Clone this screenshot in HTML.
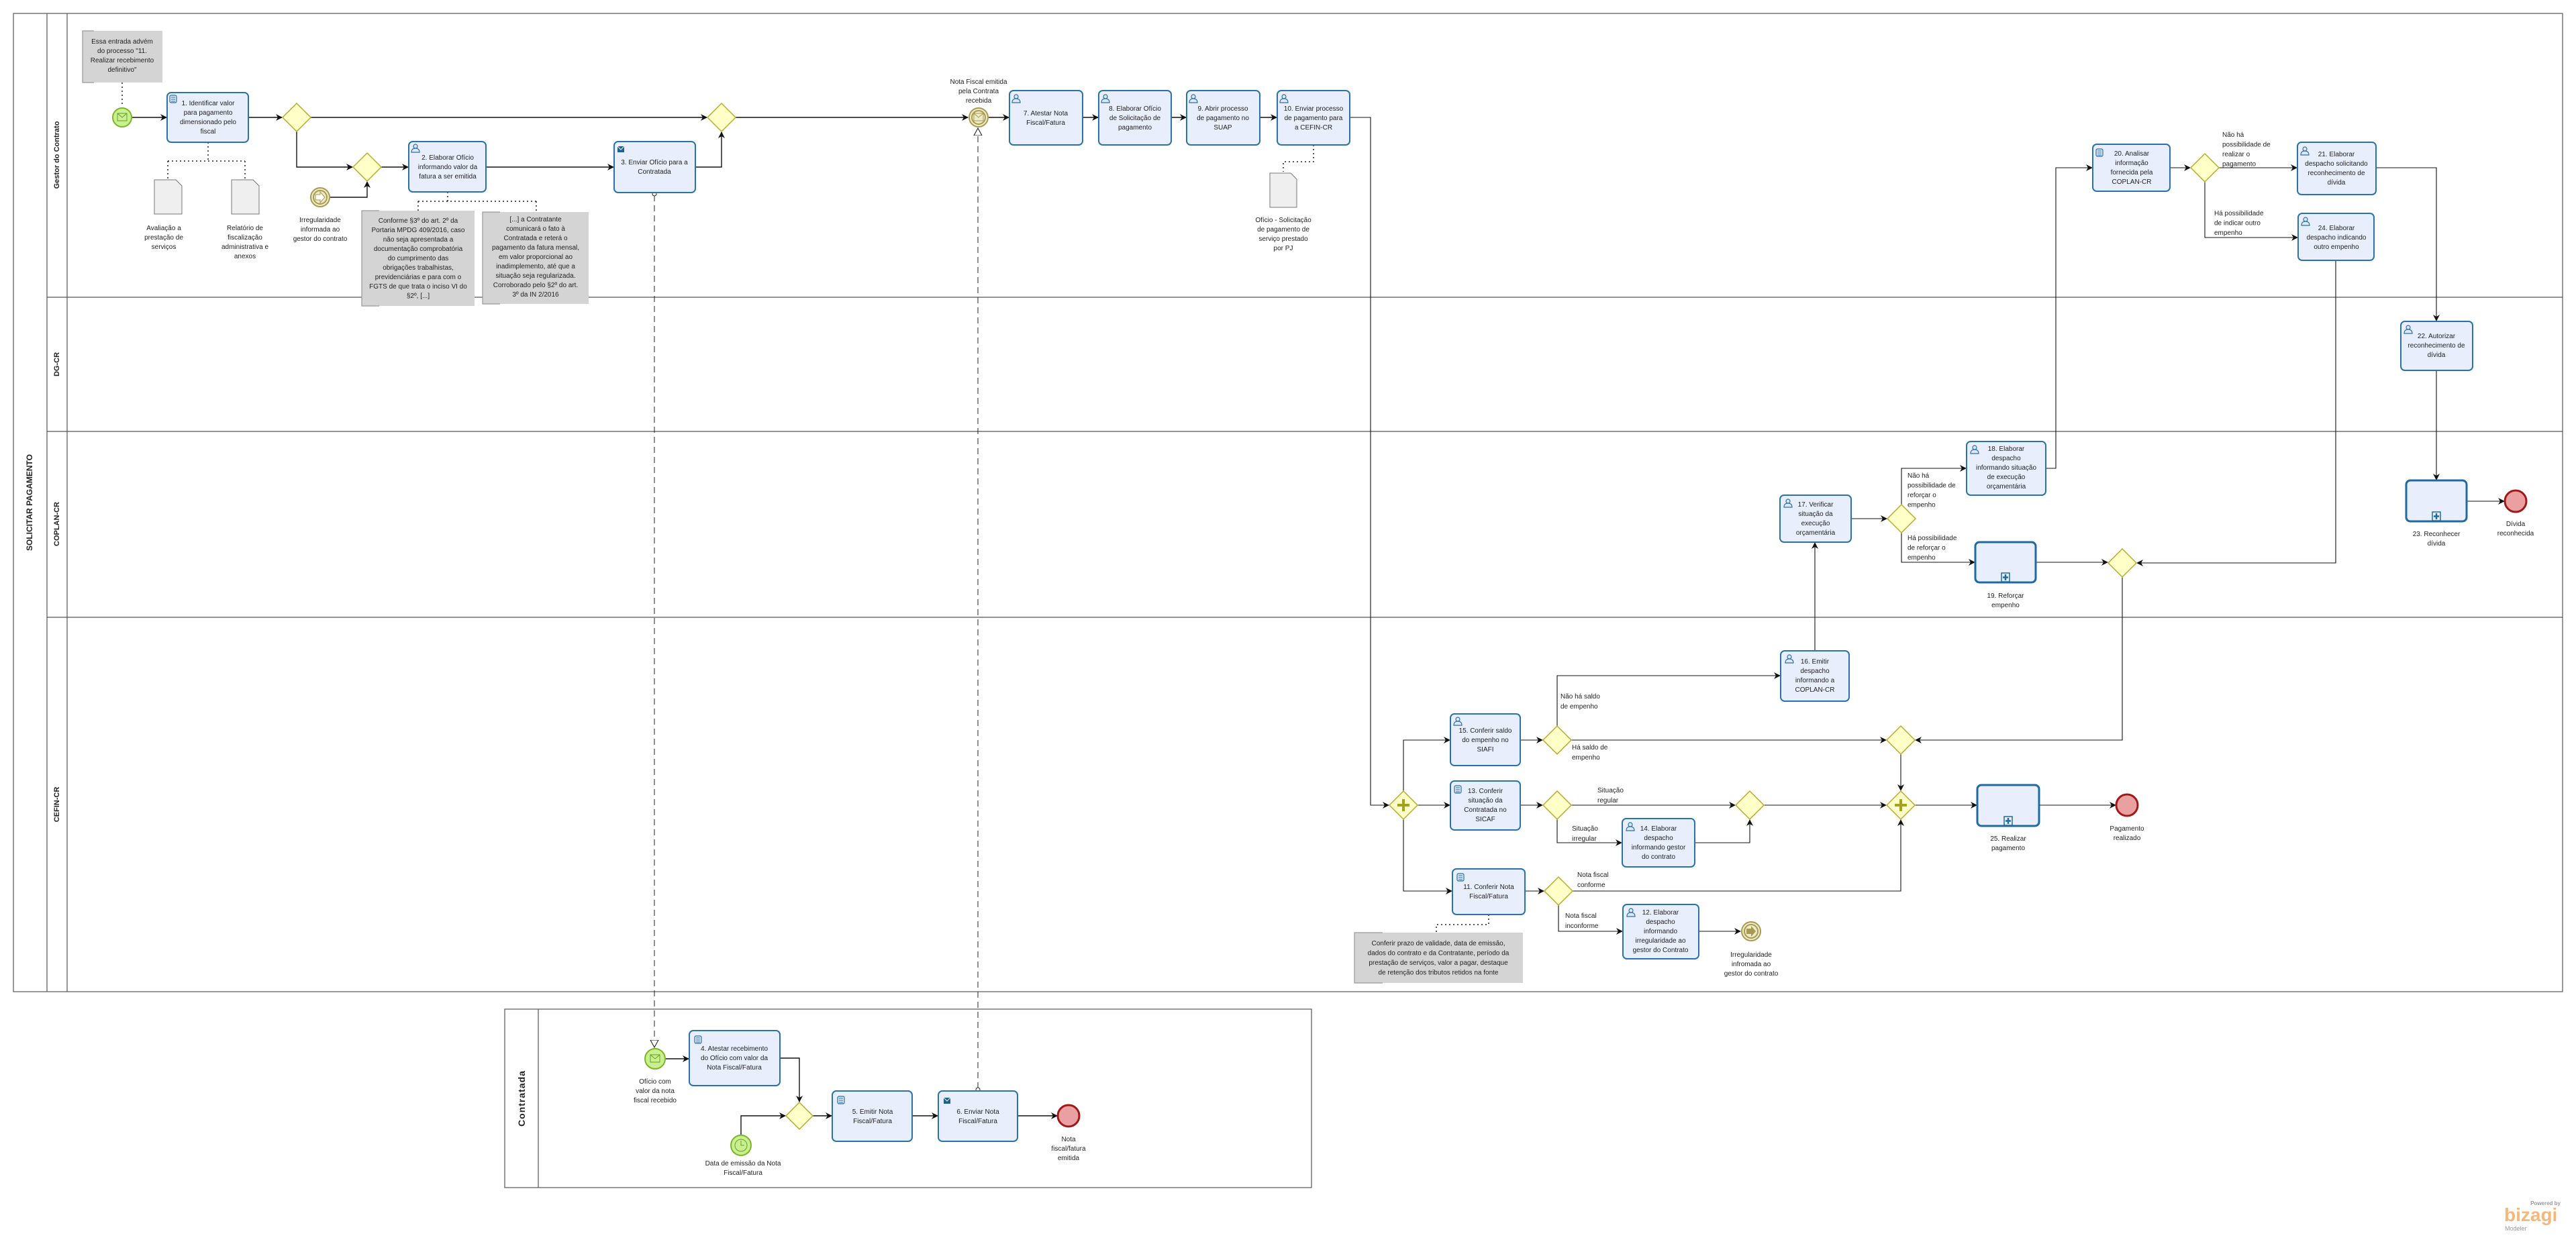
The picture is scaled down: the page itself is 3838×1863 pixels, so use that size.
<!DOCTYPE html>
<html><head><meta charset="utf-8"><style>
html,body{margin:0;padding:0;background:#fff;}
svg{display:block;}
text{font-family:"Liberation Sans",sans-serif;font-size:10px;fill:#222;}
.t{text-anchor:middle;}
.b{font-weight:bold;}
</style></head><body>
<svg width="3838" height="1863" viewBox="0 0 3838 1863" xmlns="http://www.w3.org/2000/svg">
<defs>
<marker id="a" markerUnits="userSpaceOnUse" markerWidth="10" markerHeight="10" refX="9" refY="5" orient="auto"><path d="M0,0 L10,5 L0,10 L3,5 z" fill="#111"/></marker>
<marker id="h" markerUnits="userSpaceOnUse" markerWidth="12" markerHeight="14" refX="11" refY="7" orient="auto"><path d="M0,1 L11,7 L0,13 z" fill="#fff" stroke="#111" stroke-width="1"/></marker>
<g id="usr"><circle cx="0" cy="-3" r="3" fill="#dfe8f8" stroke="#2a6fa8" stroke-width="1.2"/><path d="M-6,6 Q-6,0 0,0 Q6,0 6,6 z" fill="#dfe8f8" stroke="#2a6fa8" stroke-width="1.2"/></g>
<g id="scr"><rect x="-5" y="-5" width="10" height="11" rx="2" fill="#dfe8f8" stroke="#2a6fa8" stroke-width="1.2"/><path d="M-3,-2h6M-3,1h6M-3,4h6" stroke="#2a6fa8"/></g>
<g id="snd"><rect x="-5" y="-4" width="10" height="9" fill="#1e5f94"/><path d="M-5,-4 L0,1 L5,-4" stroke="#fff" fill="none"/></g>
</defs>

<!-- main pool -->
<g fill="none" stroke="#555" stroke-width="1.2">
<rect x="20" y="20" width="3798" height="1458"/>
<line x1="70" y1="20" x2="70" y2="1478"/>
<line x1="100" y1="20" x2="100" y2="1478"/>
<line x1="70" y1="443" x2="3818" y2="443"/>
<line x1="70" y1="643" x2="3818" y2="643"/>
<line x1="70" y1="920" x2="3818" y2="920"/>
<rect x="752" y="1504" width="1202" height="266"/>
<line x1="802" y1="1504" x2="802" y2="1770"/>
</g>
<text class="t b" transform="translate(48,749) rotate(-90)" style="font-size:12px">SOLICITAR PAGAMENTO</text>
<text class="t b" transform="translate(88,231) rotate(-90)" style="font-size:11px">Gestor do Contrato</text>
<text class="t b" transform="translate(88,543) rotate(-90)" style="font-size:11px">DG-CR</text>
<text class="t b" transform="translate(88,781) rotate(-90)" style="font-size:11px">COPLAN-CR</text>
<text class="t b" transform="translate(88,1199) rotate(-90)" style="font-size:11px">CEFIN-CR</text>
<text class="t b" transform="translate(782,1637) rotate(-90)" style="font-size:14px;letter-spacing:1px">Contratada</text>

<!-- sequence flows -->
<g fill="none" stroke="#111" stroke-width="1.4" marker-end="url(#a)">
<path d="M197,175 H248"/>
<path d="M371,175 H420"/>
<path d="M463,175 H1053"/>
<path d="M442,196 V249 H525"/>
<path d="M492,294 H547 V271"/>
<path d="M568,249 H608"/>
<path d="M724,249 H914"/>
<path d="M1036,249 H1075 V197"/>
<path d="M1096,175 H1442"/>
<path d="M1473,175 H1503"/>
<path d="M1613,175 H1636"/>
<path d="M1745,175 H1767"/>
<path d="M1877,175 H1902"/>
</g>
<g fill="none" stroke="#111" stroke-width="1.1" marker-end="url(#a)">
<path d="M2011,175 H2042 V1200 H2069"/>
<path d="M2112,1200 H2160"/>
<path d="M2091,1179 V1103 H2160"/>
<path d="M2091,1221 V1328 H2163"/>
<path d="M2265,1103 H2298"/>
<path d="M2320,1082 V1007 H2652"/>
<path d="M2341,1103 H2810"/>
<path d="M2704,970 V809"/>
<path d="M2265,1200 H2298"/>
<path d="M2341,1200 H2585"/>
<path d="M2320,1221 V1256 H2416"/>
<path d="M2525,1256 H2607 V1222"/>
<path d="M2628,1200 H2810"/>
<path d="M2832,1124 V1178"/>
<path d="M2272,1328 H2300"/>
<path d="M2343,1328 H2832 V1222"/>
<path d="M2322,1349 V1388 H2417"/>
<path d="M2531,1388 H2593"/>
<path d="M2853,1200 H2945"/>
<path d="M3038,1200 H3152"/>
<path d="M3162,860 V1103 H2854"/>
<path d="M2758,773 H2811"/>
<path d="M2833,752 V698 H2929"/>
<path d="M2833,794 V838 H2942"/>
<path d="M3033,838 H3140"/>
<path d="M3480,388 V839 H3184"/>
<path d="M3048,698 H3063 V250 H3117"/>
<path d="M3233,250 H3263"/>
<path d="M3306,250 H3422"/>
<path d="M3285,271 V354 H3423"/>
<path d="M3540,250 H3630 V478"/>
<path d="M3630,552 V715"/>
<path d="M3675,747 H3731"/>
</g>
<g fill="none" stroke="#111" stroke-width="1.4" marker-end="url(#a)">
<path d="M992,1578 H1026"/>
<path d="M1162,1577 H1191 V1642"/>
<path d="M1104,1691 V1663 H1170"/>
<path d="M1211,1663 H1239"/>
<path d="M1359,1663 H1397"/>
<path d="M1516,1663 H1575"/>
</g>

<!-- message flows -->
<g fill="none" stroke="#222" stroke-width="1" stroke-dasharray="9,6">
<path d="M975,291 V1561" marker-end="url(#h)"/>
<path d="M1457,1622 V191" marker-end="url(#h)"/>
</g>
<circle cx="975" cy="289" r="3" fill="#fff" stroke="#222"/>
<circle cx="1457" cy="1624" r="3" fill="#fff" stroke="#222"/>

<!-- associations -->
<g fill="none" stroke="#222" stroke-width="1.5" stroke-dasharray="2,4">
<path d="M182,123 V159"/>
<path d="M310,212 V240 M250,240 H365 M250,240 V266 M365,240 V266"/>
<path d="M667,286 V300 M623,300 H799 M623,300 V314 M799,300 V316"/>
<path d="M1957,216 V241 H1912 V256"/>
<path d="M2218,1363 V1378 H2140 V1390"/>
</g>

<!-- annotations -->
<g fill="#d4d4d4">
<rect x="123" y="46" width="119" height="77"/>
<rect x="539" y="314" width="168" height="142"/>
<rect x="719" y="316" width="158" height="137"/>
<rect x="2018" y="1390" width="251" height="75"/>
</g>
<g fill="none" stroke="#999" stroke-width="1.2">
<path d="M140,46 H123 V123 H140"/>
<path d="M565,314 H539 V456 H565"/>
<path d="M745,316 H719 V453 H745"/>
<path d="M2060,1390 H2018 V1465 H2060"/>
</g>
<text class="t" x="182" y="65">Essa entrada advém<tspan x="182" dy="14">do processo "11.</tspan><tspan x="182" dy="14">Realizar recebimento</tspan><tspan x="182" dy="14">definitivo"</tspan></text>
<text class="t" x="623" y="332">Conforme §3º do art. 2º da<tspan x="623" dy="14">Portaria MPDG 409/2016, caso</tspan><tspan x="623" dy="14">não seja apresentada a</tspan><tspan x="623" dy="14">documentação comprobatória</tspan><tspan x="623" dy="14">do cumprimento das</tspan><tspan x="623" dy="14">obrigações trabalhistas,</tspan><tspan x="623" dy="14">previdenciárias e para com o</tspan><tspan x="623" dy="14">FGTS de que trata o inciso VI do</tspan><tspan x="623" dy="14">§2º, [...]</tspan></text>
<text class="t" x="798" y="330">[...] a Contratante<tspan x="798" dy="14">comunicará o fato à</tspan><tspan x="798" dy="14">Contratada e reterá o</tspan><tspan x="798" dy="14">pagamento da fatura mensal,</tspan><tspan x="798" dy="14">em valor proporcional ao</tspan><tspan x="798" dy="14">inadimplemento, até que a</tspan><tspan x="798" dy="14">situação seja regularizada.</tspan><tspan x="798" dy="14">Corroborado pelo §2º do art.</tspan><tspan x="798" dy="14">3º da IN 2/2016</tspan></text>
<text class="t" x="2143" y="1409">Conferir prazo de validade, data de emissão,<tspan x="2143" dy="14.5">dados do contrato e da Contratante, período da</tspan><tspan x="2143" dy="14.5">prestação de serviços, valor a pagar, destaque</tspan><tspan x="2143" dy="14.5">de retenção dos tributos retidos na fonte</tspan></text>

<!-- data objects -->
<g fill="#efefef" stroke="#777" stroke-width="1">
<path d="M230,268 H262 L271,277 V319 H230 z"/>
<path d="M345,268 H377 L386,277 V319 H345 z"/>
<path d="M1892,258 H1923 L1932,267 V309 H1892 z"/>
</g>
<text class="t" x="244" y="343">Avaliação a<tspan x="244" dy="14">prestação de</tspan><tspan x="244" dy="14">serviços</tspan></text>
<text class="t" x="365" y="343">Relatório de<tspan x="365" dy="14">fiscalização</tspan><tspan x="365" dy="14">administrativa e</tspan><tspan x="365" dy="14">anexos</tspan></text>
<text class="t" x="1912" y="331">Ofício - Solicitação<tspan x="1912" dy="14">de pagamento de</tspan><tspan x="1912" dy="14">serviço prestado</tspan><tspan x="1912" dy="14">por PJ</tspan></text>

<!-- tasks -->
<g fill="#e8eefb" stroke="#2a72a8" stroke-width="2">
<rect x="249" y="138" width="121" height="74" rx="6"/>
<rect x="609" y="211" width="115" height="75" rx="6"/>
<rect x="915" y="211" width="121" height="76" rx="6"/>
<rect x="1504" y="135" width="109" height="81" rx="6"/>
<rect x="1637" y="135" width="108" height="81" rx="6"/>
<rect x="1768" y="135" width="109" height="81" rx="6"/>
<rect x="1903" y="135" width="108" height="81" rx="6"/>
<rect x="3118" y="215" width="115" height="70" rx="6"/>
<rect x="3423" y="212" width="117" height="78" rx="6"/>
<rect x="3424" y="318" width="113" height="70" rx="6"/>
<rect x="3577" y="479" width="107" height="73" rx="6"/>
<rect x="2652" y="738" width="106" height="70" rx="6"/>
<rect x="2930" y="658" width="118" height="80" rx="6"/>
<rect x="2653" y="970" width="102" height="75" rx="6"/>
<rect x="2161" y="1064" width="104" height="77" rx="6"/>
<rect x="2161" y="1164" width="104" height="73" rx="6"/>
<rect x="2417" y="1220" width="108" height="72" rx="6"/>
<rect x="2164" y="1295" width="108" height="68" rx="6"/>
<rect x="2418" y="1348" width="113" height="81" rx="6"/>
<rect x="1027" y="1536" width="135" height="82" rx="6"/>
<rect x="1240" y="1626" width="119" height="75" rx="6"/>
<rect x="1398" y="1626" width="118" height="75" rx="6"/>
</g>
<g fill="#e8eefb" stroke="#1f6aa0" stroke-width="3">
<rect x="2943" y="808" width="90" height="60" rx="6"/>
<rect x="3585" y="716" width="90" height="61" rx="6"/>
<rect x="2946" y="1170" width="92" height="61" rx="6"/>
</g>
<g fill="#e8eefb" stroke="#1f6aa0" stroke-width="1.5">
<rect x="2982" y="854" width="12" height="13"/><rect x="3624" y="763" width="12" height="13"/><rect x="2986" y="1217" width="12" height="13"/>
</g>
<g stroke="#1f6aa0" stroke-width="2.5">
<path d="M2988,856v9M2984,860.5h8M3630,765v9M3626,769.5h8M2992,1219v9M2988,1223.5h8"/>
</g>

<!-- task icons -->
<use href="#scr" x="258" y="147"/>
<use href="#usr" x="619" y="221"/>
<use href="#snd" x="925" y="222"/>
<use href="#usr" x="1514" y="147"/>
<use href="#usr" x="1647" y="147"/>
<use href="#usr" x="1778" y="147"/>
<use href="#usr" x="1913" y="147"/>
<use href="#scr" x="3128" y="227"/>
<use href="#usr" x="3434" y="225"/>
<use href="#usr" x="3435" y="330"/>
<use href="#usr" x="3588" y="491"/>
<use href="#usr" x="2664" y="750"/>
<use href="#usr" x="2942" y="670"/>
<use href="#usr" x="2666" y="982"/>
<use href="#usr" x="2172" y="1075"/>
<use href="#scr" x="2172" y="1176"/>
<use href="#usr" x="2429" y="1232"/>
<use href="#scr" x="2176" y="1307"/>
<use href="#usr" x="2430" y="1360"/>
<use href="#scr" x="1040" y="1549"/>
<use href="#scr" x="1253" y="1639"/>
<use href="#snd" x="1411" y="1640"/>

<!-- task texts -->
<text class="t" x="310" y="157">1. Identificar valor<tspan x="310" dy="14">para pagamento</tspan><tspan x="310" dy="14">dimensionado pelo</tspan><tspan x="310" dy="14">fiscal</tspan></text>
<text class="t" x="667" y="238">2. Elaborar Ofício<tspan x="667" dy="14">informando valor da</tspan><tspan x="667" dy="14">fatura a ser emitida</tspan></text>
<text class="t" x="975" y="245">3. Enviar Ofício para a<tspan x="975" dy="14">Contratada</tspan></text>
<text class="t" x="1558" y="172">7. Atestar Nota<tspan x="1558" dy="14">Fiscal/Fatura</tspan></text>
<text class="t" x="1691" y="165">8. Elaborar Ofício<tspan x="1691" dy="14">de Solicitação de</tspan><tspan x="1691" dy="14">pagamento</tspan></text>
<text class="t" x="1822" y="165">9. Abrir processo<tspan x="1822" dy="14">de pagamento no</tspan><tspan x="1822" dy="14">SUAP</tspan></text>
<text class="t" x="1957" y="165">10. Enviar processo<tspan x="1957" dy="14">de pagamento para</tspan><tspan x="1957" dy="14">a CEFIN-CR</tspan></text>
<text class="t" x="3176" y="232">20. Analisar<tspan x="3176" dy="14">informação</tspan><tspan x="3176" dy="14">fornecida pela</tspan><tspan x="3176" dy="14">COPLAN-CR</tspan></text>
<text class="t" x="3481" y="233">21. Elaborar<tspan x="3481" dy="14">despacho solicitando</tspan><tspan x="3481" dy="14">reconhecimento de</tspan><tspan x="3481" dy="14">dívida</tspan></text>
<text class="t" x="3481" y="343">24. Elaborar<tspan x="3481" dy="14">despacho indicando</tspan><tspan x="3481" dy="14">outro empenho</tspan></text>
<text class="t" x="3630" y="504">22. Autorizar<tspan x="3630" dy="14">reconhecimento de</tspan><tspan x="3630" dy="14">dívida</tspan></text>
<text class="t" x="2705" y="755">17. Verificar<tspan x="2705" dy="14">situação da</tspan><tspan x="2705" dy="14">execução</tspan><tspan x="2705" dy="14">orçamentária</tspan></text>
<text class="t" x="2989" y="672">18. Elaborar<tspan x="2989" dy="14">despacho</tspan><tspan x="2989" dy="14">informando situação</tspan><tspan x="2989" dy="14">de execução</tspan><tspan x="2989" dy="14">orçamentária</tspan></text>
<text class="t" x="2704" y="989">16. Emitir<tspan x="2704" dy="14">despacho</tspan><tspan x="2704" dy="14">informando a</tspan><tspan x="2704" dy="14">COPLAN-CR</tspan></text>
<text class="t" x="2213" y="1092">15. Conferir saldo<tspan x="2213" dy="14">do empenho no</tspan><tspan x="2213" dy="14">SIAFI</tspan></text>
<text class="t" x="2213" y="1182">13. Conferir<tspan x="2213" dy="14">situação da</tspan><tspan x="2213" dy="14">Contratada no</tspan><tspan x="2213" dy="14">SICAF</tspan></text>
<text class="t" x="2471" y="1238">14. Elaborar<tspan x="2471" dy="14">despacho</tspan><tspan x="2471" dy="14">informando gestor</tspan><tspan x="2471" dy="14">do contrato</tspan></text>
<text class="t" x="2218" y="1325">11. Conferir Nota<tspan x="2218" dy="14">Fiscal/Fatura</tspan></text>
<text class="t" x="2474" y="1363">12. Elaborar<tspan x="2474" dy="14">despacho</tspan><tspan x="2474" dy="14">informando</tspan><tspan x="2474" dy="14">irregularidade ao</tspan><tspan x="2474" dy="14">gestor do Contrato</tspan></text>
<text class="t" x="1094" y="1566">4. Atestar recebimento<tspan x="1094" dy="14">do Ofício com valor da</tspan><tspan x="1094" dy="14">Nota Fiscal/Fatura</tspan></text>
<text class="t" x="1300" y="1660">5. Emitir Nota<tspan x="1300" dy="14">Fiscal/Fatura</tspan></text>
<text class="t" x="1457" y="1660">6. Enviar Nota<tspan x="1457" dy="14">Fiscal/Fatura</tspan></text>
<text class="t" x="2988" y="891">19. Reforçar<tspan x="2988" dy="14">empenho</tspan></text>
<text class="t" x="3630" y="799">23. Reconhecer<tspan x="3630" dy="14">dívida</tspan></text>
<text class="t" x="2992" y="1253">25. Realizar<tspan x="2992" dy="14">pagamento</tspan></text>

<!-- gateways -->
<g fill="#ffffc8" stroke="#b5ad2a" stroke-width="1.5">
<path d="M442,154 L463,175 L442,196 L421,175 z"/>
<path d="M1075,154 L1096,175 L1075,196 L1054,175 z"/>
<path d="M547,228 L568,249 L547,270 L526,249 z"/>
<path d="M3285,229 L3306,250 L3285,271 L3264,250 z"/>
<path d="M2833,752 L2854,773 L2833,794 L2812,773 z"/>
<path d="M3162,818 L3183,839 L3162,860 L3141,839 z"/>
<path d="M2320,1082 L2341,1103 L2320,1124 L2299,1103 z"/>
<path d="M2832,1082 L2853,1103 L2832,1124 L2811,1103 z"/>
<path d="M2320,1179 L2341,1200 L2320,1221 L2299,1200 z"/>
<path d="M2607,1179 L2628,1200 L2607,1221 L2586,1200 z"/>
<path d="M2322,1307 L2343,1328 L2322,1349 L2301,1328 z"/>
<path d="M2091,1179 L2112,1200 L2091,1221 L2070,1200 z"/>
<path d="M2832,1179 L2853,1200 L2832,1221 L2811,1200 z"/>
<path d="M1191,1643 L1211,1663 L1191,1683 L1171,1663 z"/>
</g>
<g stroke="#a8a020" stroke-width="4"><path d="M2091,1191v18M2082,1200h18M2832,1191v18M2823,1200h18"/></g>

<!-- events -->
<g stroke-width="2">
<circle cx="182" cy="175" r="14" fill="#c8f08c" stroke="#7cb52a"/>
<circle cx="976" cy="1578" r="15" fill="#c8f08c" stroke="#7cb52a"/>
<circle cx="1104" cy="1707" r="15" fill="#c8f08c" stroke="#7cb52a"/>
<circle cx="477" cy="294" r="14" fill="#eeebc8" stroke="#a89a50"/>
<circle cx="477" cy="294" r="10" fill="none" stroke="#a89a50"/>
<circle cx="1458" cy="175" r="14" fill="#eeebc8" stroke="#a89a50"/>
<circle cx="1458" cy="175" r="10" fill="none" stroke="#a89a50"/>
<circle cx="2609" cy="1388" r="14" fill="#eeebc8" stroke="#a89a50"/>
<circle cx="2609" cy="1388" r="10" fill="none" stroke="#a89a50"/>
<circle cx="3169" cy="1200" r="16" fill="#eaa0a0" stroke="#a01818" stroke-width="3"/>
<circle cx="3748" cy="747" r="16" fill="#eaa0a0" stroke="#a01818" stroke-width="3"/>
<circle cx="1592" cy="1663" r="16" fill="#eaa0a0" stroke="#a01818" stroke-width="3"/>
</g>
<g fill="none" stroke="#6a9a30" stroke-width="1">
<rect x="175" y="169" width="14" height="11"/><path d="M175,169 L182,175 L189,169"/>
<rect x="969" y="1572" width="14" height="11"/><path d="M969,1572 L976,1578 L983,1572"/>
<circle cx="1104" cy="1707" r="9"/><path d="M1104,1700 V1707 H1109"/>
</g>
<g fill="none" stroke="#a89a50" stroke-width="1">
<rect x="1451" y="169" width="14" height="11"/><path d="M1451,169 L1458,175 L1465,169"/>
</g>
<path d="M470,290 H477 V286 L484,294 L477,302 V298 H470 z" fill="#fff" stroke="#a89a50"/>
<path d="M2602,1384 H2609 V1380 L2616,1388 L2609,1396 V1392 H2602 z" fill="#a89a50"/>

<!-- event / flow labels -->
<text class="t" x="477" y="331">Irregularidade<tspan x="477" dy="14">informada ao</tspan><tspan x="477" dy="14">gestor do contrato</tspan></text>
<text class="t" x="1458" y="125">Nota Fiscal emitida<tspan x="1458" dy="14">pela Contrata</tspan><tspan x="1458" dy="14">recebida</tspan></text>
<text class="t" x="2609" y="1426">Irregularidade<tspan x="2609" dy="14">infromada ao</tspan><tspan x="2609" dy="14">gestor do contrato</tspan></text>
<text class="t" x="3169" y="1238">Pagamento<tspan x="3169" dy="14">realizado</tspan></text>
<text class="t" x="3748" y="784">Dívida<tspan x="3748" dy="14">reconhecida</tspan></text>
<text class="t" x="976" y="1615">Ofício com<tspan x="976" dy="14">valor da nota</tspan><tspan x="976" dy="14">fiscal recebido</tspan></text>
<text class="t" x="1107" y="1737">Data de emissão da Nota<tspan x="1107" dy="14">Fiscal/Fatura</tspan></text>
<text class="t" x="1592" y="1701">Nota<tspan x="1592" dy="14">fiscal/fatura</tspan><tspan x="1592" dy="14">emitida</tspan></text>
<text x="3311" y="204">Não há<tspan x="3311" dy="14.5">possibilidade de</tspan><tspan x="3311" dy="14.5">realizar o</tspan><tspan x="3311" dy="14.5">pagamento</tspan></text>
<text x="3299" y="321">Há possibilidade<tspan x="3299" dy="14.5">de indicar outro</tspan><tspan x="3299" dy="14.5">empenho</tspan></text>
<text x="2842" y="712">Não há<tspan x="2842" dy="14.5">possibilidade de</tspan><tspan x="2842" dy="14.5">reforçar o</tspan><tspan x="2842" dy="14.5">empenho</tspan></text>
<text x="2842" y="805">Há possibilidade<tspan x="2842" dy="14.5">de reforçar o</tspan><tspan x="2842" dy="14.5">empenho</tspan></text>
<text x="2325" y="1041">Não há saldo<tspan x="2325" dy="15">de empenho</tspan></text>
<text x="2342" y="1117">Há saldo de<tspan x="2342" dy="15">empenho</tspan></text>
<text x="2380" y="1181">Situação<tspan x="2380" dy="15">regular</tspan></text>
<text x="2342" y="1238">Situação<tspan x="2342" dy="15">irregular</tspan></text>
<text x="2350" y="1307">Nota fiscal<tspan x="2350" dy="15">conforme</tspan></text>
<text x="2332" y="1368">Nota fiscal<tspan x="2332" dy="15">inconforme</tspan></text>

<!-- logo -->
<text x="3815" y="1796" style="font-size:8px;fill:#999;font-weight:bold;text-anchor:end">Powered by</text>
<text x="3731" y="1820" style="font-size:28px;fill:#f7b77a;font-weight:bold">bizagi</text>
<text x="3732" y="1834" style="font-size:9px;fill:#999">Modeler</text>
</svg>
</body></html>
